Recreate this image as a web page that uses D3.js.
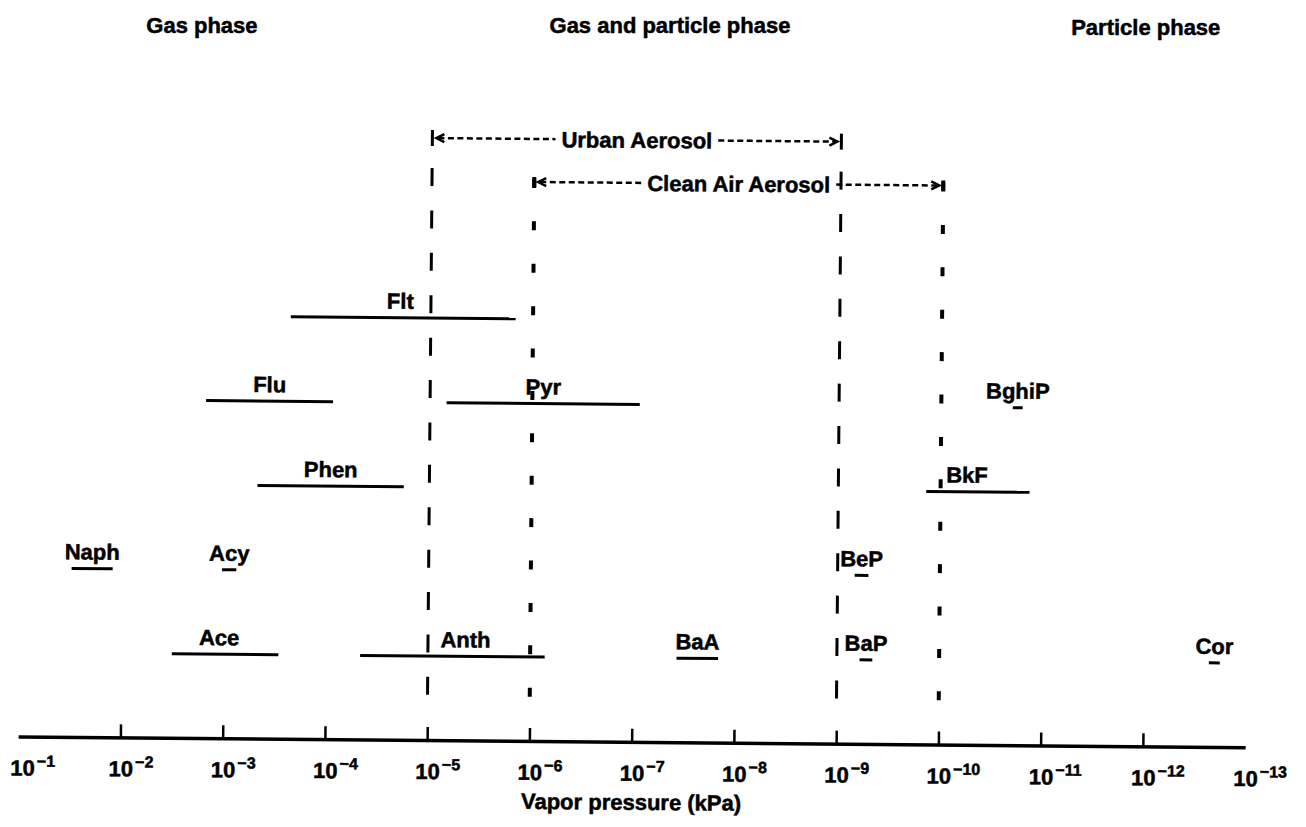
<!DOCTYPE html>
<html><head><meta charset="utf-8">
<script src="https://cdn.jsdelivr.net/npm/d3@7"></script>
<style>
html,body{margin:0;padding:0;background:#fff;}
svg{display:block;}
text{font-family:"Liberation Sans",Arial,sans-serif;font-weight:bold;fill:#000;stroke:#000;stroke-width:0.5;}
</style>
</head><body>
<svg id="c" width="1306" height="827"></svg>
<script>
// ---- data ----
const tickExponents = [-1,-2,-3,-4,-5,-6,-7,-8,-9,-10,-11,-12,-13];
const compounds = ["Flt","Flu","Pyr","BghiP","Phen","BkF","Naph","Acy","BeP","Ace","Anth","BaA","BaP","Cor"];
const vpHigh   = [2.34e-4,1.55e-3,6.9e-6,2.0e-11,4.8e-4,1.38e-10,3.1e-2,1.05e-3,6.8e-10,3.2e-3,4.6e-5,3.7e-8,6.0e-10,2.3e-13];
const vpLow    = [1.48e-6,8.9e-5,8.9e-8,1.6e-11,1.78e-5,1.35e-11,1.23e-2,7.6e-4,5.0e-10,2.9e-4,7.2e-7,1.45e-8,4.5e-10,1.8e-13];
const rowIndex = [0,1,1,1,2,2,3,3,3,4,4,4,4,4];
const phaseLabels  = ["Gas phase","Gas and particle phase","Particle phase"];
const phaseAnchors = [1.7e-3,4.5e-8,1e-12];
const aerosolNames = ["Urban Aerosol","Clean Air Aerosol"];
const aerosolFrom  = [1e-5,1e-6];
const aerosolTo    = [1e-9,1e-10];
const axisTitle = "Vapor pressure (kPa)";

// ---- layout ----
const labelNudge = {Anth:13, BkF:-11, Ace:-6, Flt:-3};
const svg = d3.select("#c");
const root = svg.append("g").attr("transform","rotate(0.5,653,413)");
const x = d3.scaleLog().domain([1e-1,1e-13]).range([21,1248]);
const y = d3.scaleLinear().domain([0,4]).range([320,658]);
const axisY = 742;
const aerosolRowY = [140,183];
const FS = 22;

// phase headers (not skewed)
svg.selectAll("text.phase").data(phaseLabels).join("text")
  .attr("class","phase")
  .attr("x",(d,i)=>x(phaseAnchors[i])).attr("y",(d,i)=>i===2?35:33)
  .attr("text-anchor","middle").attr("font-size",FS).text(d=>d);

// vertical aerosol boundary lines
const vlines = [];
aerosolFrom.forEach((v,i)=>{vlines.push({v:v,k:i});vlines.push({v:aerosolTo[i],k:i});});
root.selectAll("line.vline").data(vlines).join("line")
  .attr("class","vline")
  .attr("x1",d=>x(d.v)).attr("x2",d=>x(d.v))
  .attr("y1",d=>d.k===0?170:180).attr("y2",700)
  .attr("stroke","#000")
  .attr("stroke-width",d=>d.k===0?3:4)
  .attr("stroke-dasharray",d=>d.k===0?"18,24.4":"9,33.4");

// aerosol range annotations
aerosolNames.forEach((name,i)=>{
  const xa = x(aerosolFrom[i]), xb = x(aerosolTo[i]), yy = aerosolRowY[i];
  const mid = (xa+xb)/2;
  const g = root.append("g");
  const bg = g.append("rect").attr("fill","#fff");
  const t = g.append("text").attr("x",mid).attr("y",yy+8).attr("text-anchor","middle")
    .attr("font-size",FS).text(name);
  const w = t.node().getComputedTextLength();
  bg.attr("x",mid-w/2-3).attr("y",yy-11).attr("width",w+6).attr("height",22);
  g.append("line").attr("x1",xa+6).attr("x2",mid-w/2-6).attr("y1",yy).attr("y2",yy)
    .attr("stroke","#000").attr("stroke-width",2.5).attr("stroke-dasharray","6,3.5");
  g.append("line").attr("x1",mid+w/2+6).attr("x2",xb-6).attr("y1",yy).attr("y2",yy)
    .attr("stroke","#000").attr("stroke-width",2.5).attr("stroke-dasharray","6,3.5");
  g.append("path").attr("d",`M${xa+12},${yy-4}L${xa+4},${yy}L${xa+12},${yy+4}`)
    .attr("fill","none").attr("stroke","#000").attr("stroke-width",2.5);
  g.append("path").attr("d",`M${xb-12},${yy-4}L${xb-4},${yy}L${xb-12},${yy+4}`)
    .attr("fill","none").attr("stroke","#000").attr("stroke-width",2.5);
  const h = i===0?8:5;
  [xa,xb].forEach(xx=>g.append("line").attr("x1",xx).attr("x2",xx).attr("y1",yy-h).attr("y2",yy+h)
    .attr("stroke","#000").attr("stroke-width",i===0?3:4));
});

// compound vapor-pressure ranges
const comp = compounds.map((c,i)=>({name:c,hi:vpHigh[i],lo:vpLow[i],row:rowIndex[i]}));
root.selectAll("line.range").data(comp).join("line")
  .attr("class","range")
  .attr("x1",d=>x(d.hi)).attr("x2",d=>x(d.lo))
  .attr("y1",d=>y(d.row)).attr("y2",d=>y(d.row))
  .attr("stroke","#000").attr("stroke-width",3);
root.selectAll("text.clabel").data(comp).join("text")
  .attr("class","clabel")
  .attr("x",d=>x(Math.sqrt(d.hi*d.lo))+(labelNudge[d.name]||0)).attr("y",d=>y(d.row)-9)
  .attr("text-anchor","middle").attr("font-size",FS).text(d=>d.name);

// axis
const axis = d3.axisBottom(x)
  .tickValues(tickExponents.map(e=>Math.pow(10,e)))
  .tickSizeInner(-13).tickSizeOuter(0).tickFormat(()=> "");
const ax = root.append("g").attr("transform",`translate(0,${axisY})`).call(axis);
ax.select(".domain").attr("stroke","#000").attr("stroke-width",3.5);
ax.selectAll(".tick line").attr("stroke","#000").attr("stroke-width",2.5)
  .attr("display",(d,i)=>(i===0||i===tickExponents.length-1)?"none":null);
ax.selectAll(".tick text").each(function(d,i){
  const t = d3.select(this);
  t.text(null).attr("y",39).attr("dy",null).attr("x",i===0?-8:-12)
   .attr("text-anchor","start").attr("font-size",FS).attr("fill","#000");
  t.append("tspan").text("10");
  t.append("tspan").attr("font-size",16).attr("dx",2).attr("dy",-9).text("\u2212"+Math.abs(tickExponents[i]));
});
ax.attr("font-family",null).attr("font-size",null);

// axis title
root.append("text").attr("x",x(1e-7)).attr("y",810).attr("text-anchor","middle")
  .attr("font-size",FS).text(axisTitle);
</script>
</body></html>
